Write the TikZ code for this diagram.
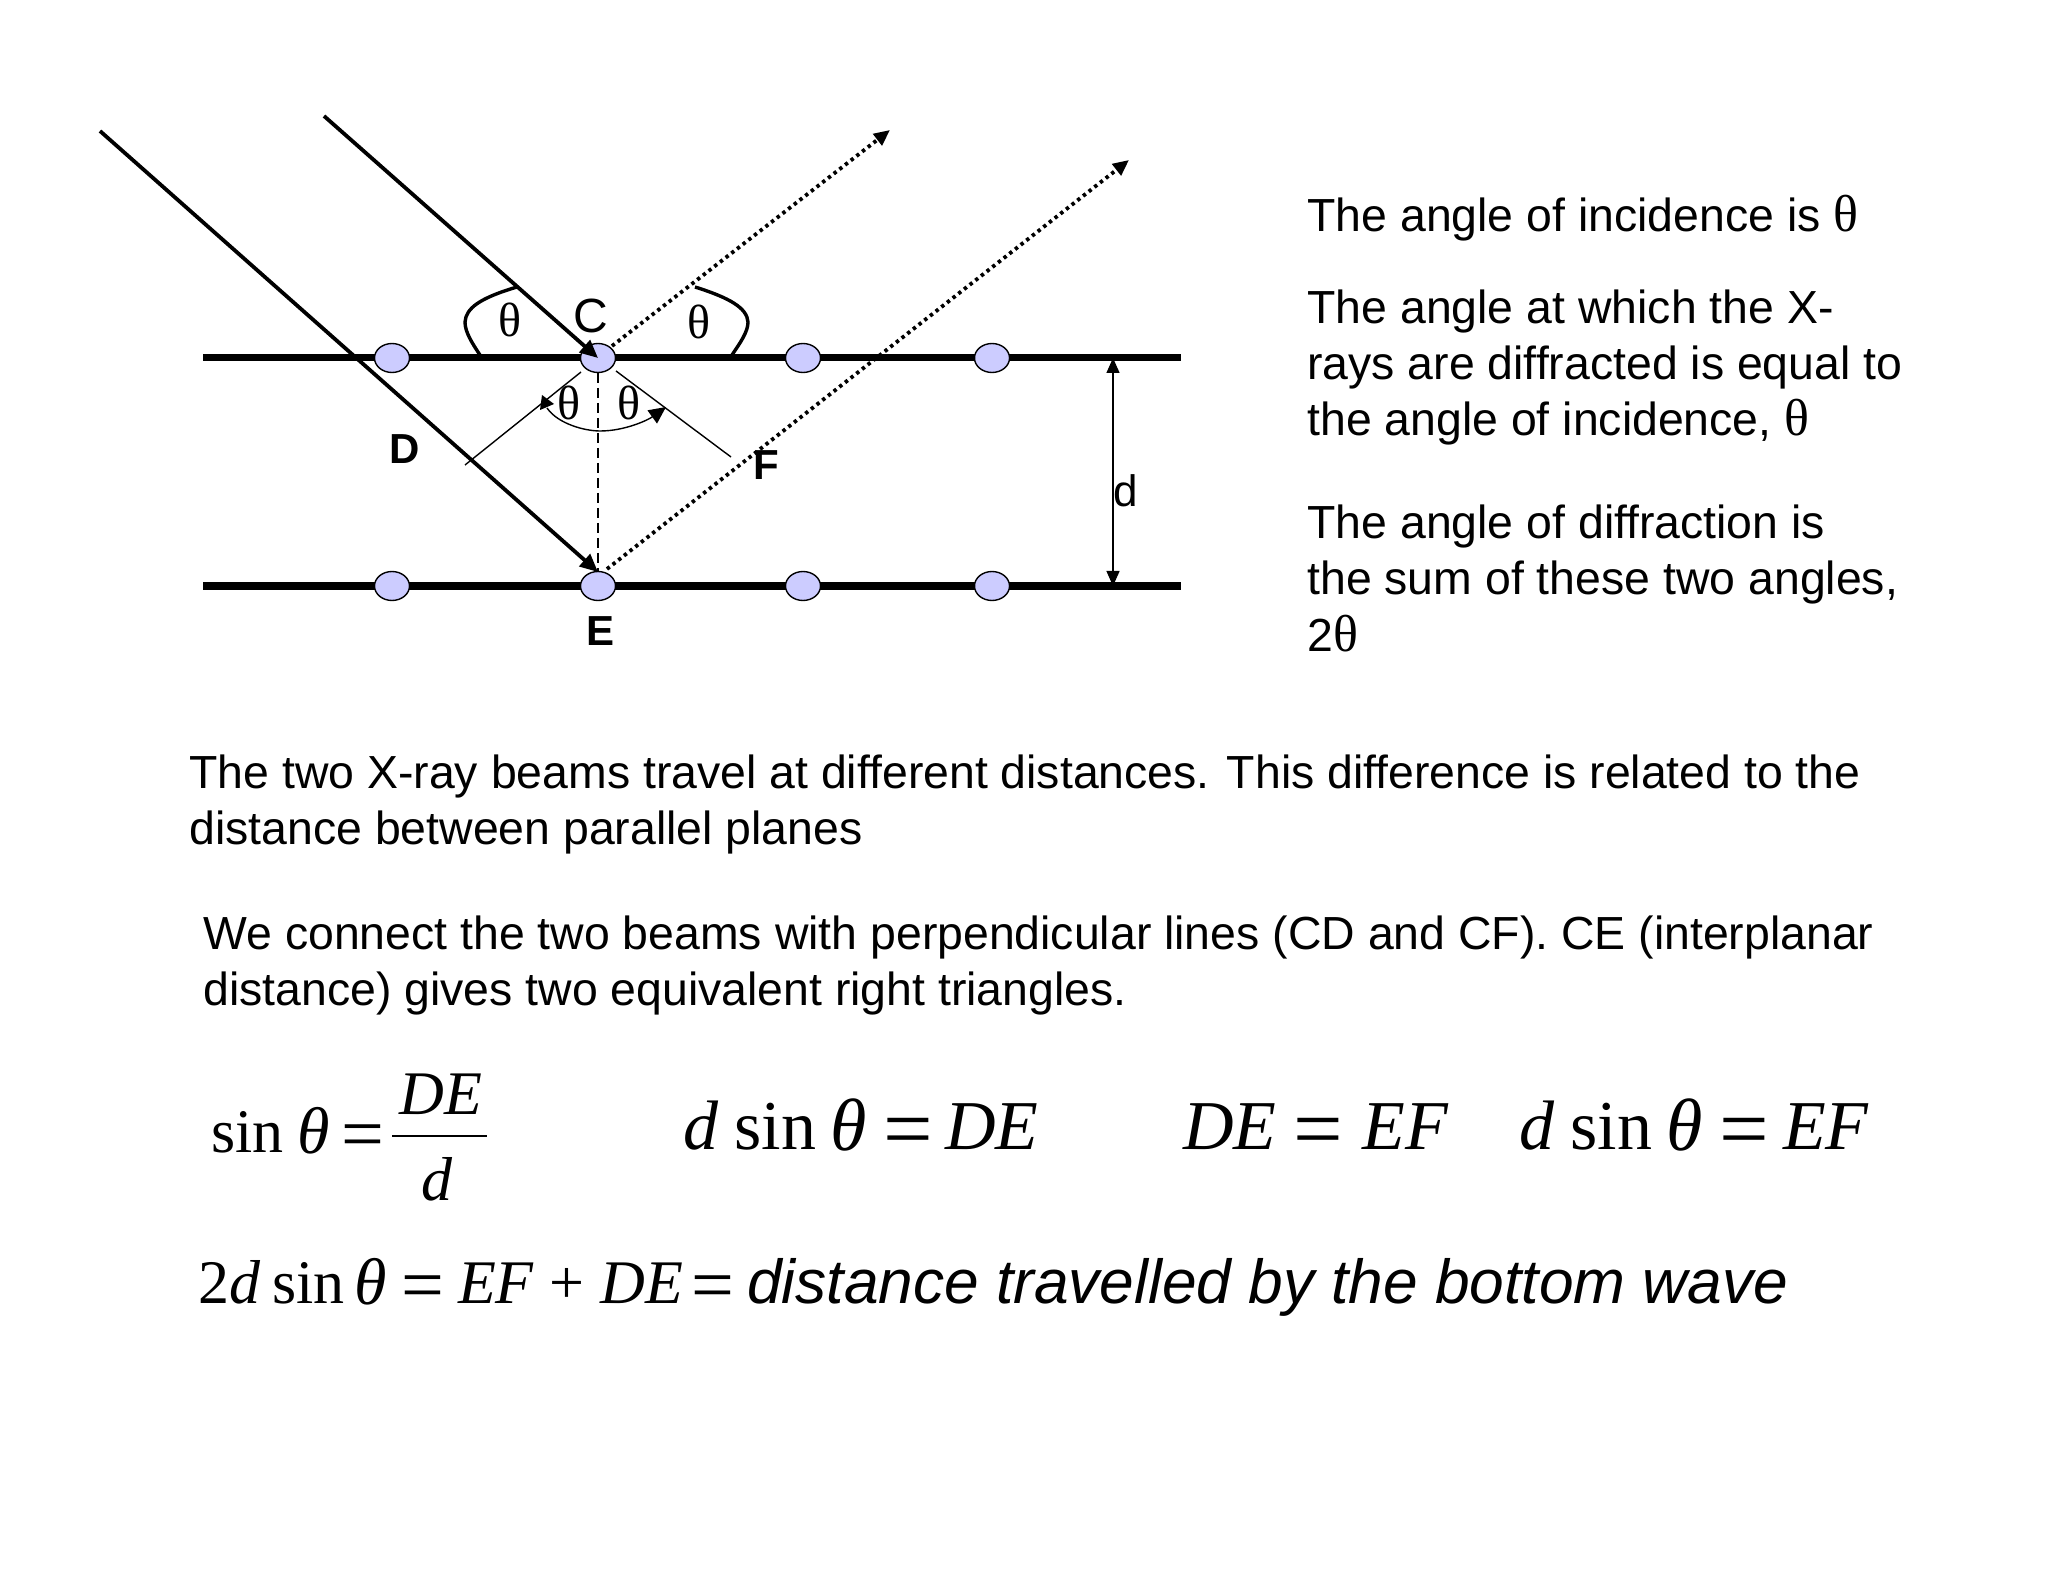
\documentclass[tikz,border=0pt]{standalone}
\usepackage{fontspec}
\setmainfont{Liberation Sans}
\newfontfamily\tms{Liberation Serif}
\usetikzlibrary{arrows.meta,shapes.geometric}
\newcommand{\fs}[1]{\fontsize{#1}{#1}\selectfont}
\newcommand{\mi}[1]{{\itshape #1}}
\newcommand{\g}[1]{\hspace{#1pt}}
\newcommand{\bigeq}[2]{\raisebox{-#2pt}{\fs{#1}=}}
\newcommand{\bigth}[1]{\raisebox{-0.8pt}{\itshape\fs{#1}θ}}
\tikzset{
  plane/.style={line width=3.5pt},
  beam/.style={line width=1.9pt,-{Triangle[length=9pt,width=8pt]}},
  diff/.style={line width=1.9pt,dash pattern=on 1.7pt off 1.9pt,-{Triangle[length=8pt,width=7pt]}},
  thin line/.style={line width=0.7pt},
  atom/.style={ellipse,draw=black,line width=0.7pt,fill=blue!20!white,minimum width=17.5pt,minimum height=14.5pt,inner sep=0pt},
  body/.style={anchor=base west,inner sep=0pt,font=\fs{23.2}},
  eq/.style={anchor=base west,inner sep=0pt,font=\tms\fs{35}},
  eqs/.style={anchor=base west,inner sep=0pt,font=\tms\fs{31}},
  lab/.style={inner sep=0pt,font=\fs{24}},
  blab/.style={inner sep=0pt,font=\bfseries\fs{21}},
  th/.style={inner sep=0pt,font=\tms\fs{24}},
}
\begin{document}
\begin{tikzpicture}[x=0.5pt,y=-0.5pt]
\useasboundingbox (0,0) rectangle (2048,1582);
% planes
\coordinate (p1a) at (203,358); \coordinate (p1b) at (1181,358);
\coordinate (p2a) at (203,586); \coordinate (p2b) at (1181,586);
\draw[plane] (p1a) -- (p1b);
\draw[plane] (p2a) -- (p2b);
% atoms
\foreach \n/\x in {a/392,c/598,b/803,e/992}{
  \node[atom] (t\n) at (\x,358) {};
  \node[atom] (u\n) at (\x,586) {};
}
% beams
\coordinate (b1s) at (100,131); \coordinate (b2s) at (324,116);
\coordinate (C) at (598,358); \coordinate (E) at (598,572);
\draw[beam] (b1s) -- (E);
\draw[beam] (b2s) -- (C);
\coordinate (d1s) at (612,346); \coordinate (d1e) at (890,130);
\coordinate (d2s) at (607,569); \coordinate (d2e) at (1129,160);
\draw[diff] (d1s) -- (d1e);
\draw[diff] (d2s) -- (d2e);
% perpendiculars
\coordinate (cd1) at (581,372); \coordinate (cd2) at (465,465);
\coordinate (cf1) at (616,371); \coordinate (cf2) at (731,457);
\draw[thin line] (cd1) -- (cd2);
\draw[thin line] (cf1) -- (cf2);
\coordinate (ce1) at (598,373); \coordinate (ce2) at (598,572);
\draw[thin line,dashed,dash pattern=on 5pt off 2.5pt] (ce1) -- (ce2);
% angle arcs
\coordinate (l1) at (517,287); \coordinate (l2) at (480,355);
\coordinate (r1) at (695,287); \coordinate (r2) at (732,355);
\draw[line width=1.7pt] (l1) .. controls (480,298) and (466,308) .. (465,322) .. controls (465,332) and (472,343) .. (l2);
\draw[line width=1.7pt] (r1) .. controls (730,298) and (747,308) .. (748,322) .. controls (748,332) and (740,343) .. (r2);
\coordinate (ma) at (547,408); \coordinate (mb) at (666,407);
\draw[thin line,-{Triangle[length=8.5pt,width=8pt]}] (ma) .. controls (558,424) and (585,431) .. (600,431) .. controls (625,431) and (648,420) .. (mb);
\coordinate (h1) at (542,395); \coordinate (h2) at (540,410); \coordinate (h3) at (554,404);
\fill (h1) -- (h2) -- (h3) -- cycle;
% d dimension
\coordinate (dt) at (1113,358); \coordinate (db) at (1113,586);
\draw[thin line,{Triangle[length=7.5pt,width=6.5pt]}-{Triangle[length=7.5pt,width=6.5pt]}] (dt) -- (db);
% labels
\node[lab] (lC) at (591,316) {C};
\node[blab] (lD) at (405,449) {D};
\node[blab] (lF) at (766,465) {F};
\node[blab] (lE) at (600,631) {E};
\node[lab,font=\fs{22}] (ld) at (1126,491) {d};
\node[th] (t1) at (510,320) {θ};
\node[th] (t2) at (699,322) {θ};
\node[th] (t3) at (569,403) {θ};
\node[th] (t4) at (629,403) {θ};
% right text
\node[body] (x1) at (1307,232) {The angle of incidence is {\tms\fs{26}θ}};
\node[body] (x2) at (1307,324) {The angle at which the X-};
\node[body] (x3) at (1307,380) {rays are diffracted is equal to};
\node[body] (x4) at (1307,436) {the angle of incidence, {\tms\fs{26}θ}};
\node[body] (x5) at (1307,539) {The angle of diffraction is};
\node[body] (x6) at (1307,595) {the sum of these two angles,};
\node[body] (x7) at (1307,651) {2{\tms\fs{26}θ}};
% paragraphs
\node[body] (y1) at (189,788) {The two X-ray beams travel at different distances. This difference is related to the};
\node[body] (y2) at (189,844) {distance between parallel planes};
\node[body] (y3) at (203,949) {We connect the two beams with perpendicular lines (CD and CF). CE (interplanar};
\node[body] (y4) at (203,1005) {distance) gives two equivalent right triangles.};
% equations
\node[eqs] (e1) at (211,1152) {sin\g{7}\bigth{33}\g{5.5}\bigeq{38}{3.6}};
\node[eqs,anchor=base] (e1n) at (441,1114) {\mi{DE}};
\node[eqs,anchor=base] (e1d) at (437,1200) {\mi{d}};
\coordinate (fa) at (392,1136); \coordinate (fb) at (487,1136);
\draw[line width=1pt] (fa) -- (fb);
\node[eq] (e2) at (683,1149) {\mi{d}\g{8}sin\g{7}\bigth{37}\g{8.5}\bigeq{44}{4.6}\g{6}\mi{DE}};
\node[eq] (e3) at (1183,1149) {\mi{DE}\g{8.5}\bigeq{44}{4.6}\g{9.5}\mi{EF}};
\node[eq] (e4) at (1519,1149) {\mi{d}\g{8}sin\g{7}\bigth{37}\g{8.5}\bigeq{44}{4.6}\g{7}\mi{EF}};
\node[eqs] (e5) at (198,1303) {2\mi{d}\g{6}sin\g{5}\bigth{33}\g{7}\bigeq{38}{3.6}\g{7}\mi{EF}\g{8}+\g{8}\mi{DE}\g{4}\bigeq{38}{3.6}};
\node[anchor=base west,inner sep=0pt,font=\itshape\fs{31.1}] (e6) at (747,1303) {distance travelled by the bottom wave};
\end{tikzpicture}
\end{document}
